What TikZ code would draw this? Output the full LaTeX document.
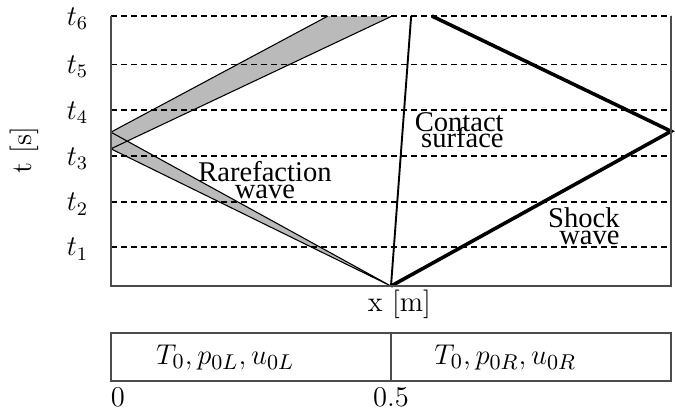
\documentclass[tikz,border=0pt]{standalone}
\usepackage{amsmath,amssymb}
\usepackage{fontspec}
\newfontfamily\timesfont{Liberation Serif}
\usepackage{tikz}

\begin{document}
\begin{tikzpicture}[x=235.2pt, y=18.9pt, every label/.append style={font=\large}]
    \tikzstyle{grid}=[dash pattern=on 2.5pt off 1.7pt, line width=0.55pt];
    \tikzstyle{fan}=[fill=black!27];
    \tikzstyle{wall}=[draw=black!70, line width=0.8pt];
    \tikzstyle{wavetext}=[inner sep=0pt, font={\timesfont\fontsize{12}{6.9}\selectfont\lineskiplimit=-\maxdimen}];
    \tikzstyle{tlevel}=[label={[label distance=6pt, yshift=-1pt]left:$t_{#1}$}];
    \useasboundingbox (-0.198,-2.911) rectangle (1.007,6.356);
    % time levels
    \coordinate[tlevel=1] (t1) at (0,0.87);
    \coordinate[tlevel=2] (t2) at (0,1.87);
    \coordinate[tlevel=3] (t3) at (0,2.89);
    \coordinate[tlevel=4] (t4) at (0,3.91);
    \coordinate[tlevel=5] (t5) at (0,4.93);
    \coordinate[tlevel=6] (t6) at (0,6);
    % waves
    \coordinate (O) at (0.5,0);
    \coordinate (A) at (0,3.42);
    \coordinate (B) at (0,3.05);
    \coordinate (C) at (0.3875,6);
    \coordinate (D) at (0.502,6);
    \coordinate (F) at (0.536,6);
    \coordinate (S) at (1,3.44);
    \coordinate (E) at (0.573,6);
    %rarefaction fan
    \fill[fan] (O) -- (A) -- (B) -- cycle;
    \fill[fan] (A) -- (C) -- (D) -- (B) -- cycle;
    \draw[line width=0.45pt] (O) -- (A) (O) -- (B) (A) -- (C) (B) -- (D);
    \draw[grid] (t1) -- +(1,0) (t2) -- +(1,0) (t3) -- +(1,0) (t4) -- +(1,0) (t5) -- +(1,0) (t6) -- +(1,0);
    %contact and shock
    \draw[line width=0.8pt] (O) -- (F);
    \draw[line width=1.5pt] (O) -- (S) -- (E);
    \draw[wall] (t6) -- (0,0) -- (1,0) -- (1,6);
    \node[wavetext, align=center] (rare) at (0.275,2.36) {Rarefaction\\wave};
    \node[wavetext, align=right, anchor=east] (cont) at (0.702,3.46) {Contact\\surface};
    \node[wavetext, align=right, anchor=east] (shock) at (0.909,1.33) {Shock\\wave};
    \node[font=\large] (xlab) at (0.515,-0.40) {x [m]};
    \node[font=\large, rotate=90] (tlab) at (-0.154,3.02) {t [s]};
    %initial state
    \draw[wall] (0,-1.044) rectangle (1,-2.11);
    \draw[black!70, line width=0.5pt] (0.5,-1.044) -- (0.5,-2.11);
    \node[font=\fontsize{13}{15}\selectfont] (qL) at (0.204,-1.58) {$T_0, p_{0L}, u_{0L}$};
    \node[font=\fontsize{13}{15}\selectfont] (qR) at (0.704,-1.58) {$T_0, p_{0R}, u_{0R}$};
    \node[font=\large] (x0) at (0.0125,-2.47) {0};
    \node[font=\large] (x1) at (0.5,-2.47) {0.5};
    \node[font=\large] (x2) at (1.03,-2.47) {1};
\end{tikzpicture}
\end{document}
